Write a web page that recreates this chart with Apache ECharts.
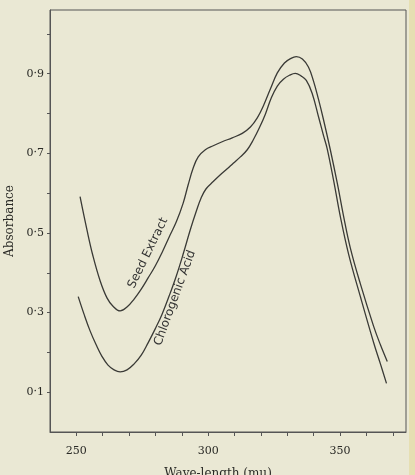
<!DOCTYPE html>
<html>
<head>
<meta charset="utf-8">
<style>
  html, body { margin: 0; padding: 0; background: #eae8d4; }
  #chart { width: 415px; height: 475px; }
</style>
<script src="https://cdn.jsdelivr.net/npm/echarts@6/dist/echarts.min.js"></script>
</head>
<body>
<div id="chart"></div>
<script>
// Data
const seedX = [251.4,254.1,256.3,259.0,261.6,263.9,266.6,269.2,271.9,274.6,277.2,279.9,282.5,285.2,287.9,290.5,292.4,294.3,296.2,298.9,301.9,305.3,309.1,312.9,316.0,318.6,320.9,323.6,326.2,328.9,331.2,333.4,335.7,338.0,339.9,341.8,343.7,346.3,349.0,351.3,353.9,357.7,362.7,365.3,367.9];
const seedY = [0.591,0.505,0.442,0.380,0.337,0.316,0.304,0.314,0.334,0.359,0.387,0.417,0.451,0.490,0.528,0.575,0.621,0.663,0.691,0.709,0.719,0.729,0.739,0.750,0.766,0.789,0.819,0.862,0.902,0.927,0.938,0.943,0.937,0.917,0.882,0.836,0.785,0.709,0.623,0.543,0.462,0.372,0.266,0.219,0.177];
const chloroX = [250.7,252.9,255.2,257.5,259.7,262.0,264.3,266.6,269.2,271.9,274.6,277.2,279.9,282.5,285.2,287.9,290.5,293.2,295.5,297.3,299.2,301.9,304.6,307.2,309.5,312.2,314.8,317.1,319.4,321.7,323.9,326.2,328.5,330.8,333.0,335.3,337.2,339.4,341.9,343.7,345.1,347.6,350.1,353.3,357.7,362.8,365.3,367.6];
const chloroY = [0.340,0.296,0.254,0.219,0.190,0.168,0.156,0.151,0.156,0.171,0.193,0.224,0.259,0.296,0.342,0.392,0.447,0.508,0.555,0.588,0.611,0.629,0.646,0.661,0.675,0.691,0.709,0.734,0.764,0.799,0.839,0.869,0.886,0.896,0.901,0.894,0.883,0.851,0.790,0.745,0.712,0.630,0.541,0.445,0.340,0.223,0.171,0.122];
const xTickValues = [250,260,270,280,290,300,310,320,330,340,350,360,370];
const xLabelValues = [250,300,350];
const yTickValues = [0.1,0.2,0.3,0.4,0.5,0.6,0.7,0.8,0.9,1.0];
const yLabelValues = [0.1,0.3,0.5,0.7,0.9];
const seriesNames = ['Seed Extract', 'Chlorogenic Acid'];
const xTitle = 'Wave-length (m\u03bc)';
const yTitle = 'Absorbance';

const zip = (xs, ys) => xs.map((x, i) => [x, ys[i]]);
const ink = '#3a3a36';
const serif = 'DejaVu Serif';

const chart = echarts.init(document.getElementById('chart'), null, { renderer: 'canvas' });
chart.setOption({
  backgroundColor: '#eae8d4',
  animation: false,
  grid: { left: 50, right: 9, top: 10, bottom: 43, containLabel: false, outerBoundsMode: 'none',
    show: true, borderColor: '#555', borderWidth: 1, backgroundColor: 'transparent' },
  xAxis: {
    type: 'value', min: 240, max: 375, interval: 10,
    name: xTitle, nameLocation: 'middle', nameGap: 36,
    nameTextStyle: { fontFamily: serif, fontSize: 12, color: '#2a2a26', padding: [0, 20, 0, 0] },
    axisLine: { show: true, lineStyle: { color: '#555', width: 1 } },
    axisTick: { show: true, inside: false, length: 4, customValues: xTickValues, lineStyle: { color: '#555' } },
    axisLabel: { customValues: xLabelValues, margin: 14, fontFamily: serif, fontSize: 11, color: '#2a2a26' },
    splitLine: { show: false }
  },
  yAxis: {
    type: 'value', min: 0, max: 1.06, interval: 0.1,
    name: yTitle, nameLocation: 'middle', nameGap: 32, nameRotate: 90,
    nameTextStyle: { fontFamily: serif, fontSize: 12, color: '#2a2a26' },
    axisLine: { show: true, lineStyle: { color: '#555', width: 1 } },
    axisTick: { show: true, inside: false, length: 3, customValues: yTickValues, lineStyle: { color: '#555' } },
    axisLabel: { customValues: yLabelValues, margin: 6, fontFamily: serif, fontSize: 11, color: '#2a2a26',
      formatter: v => v.toFixed(1).replace('.', '\u00b7') },
    splitLine: { show: false }
  },
  series: [
    { name: seriesNames[0], type: 'line', data: zip(seedX, seedY), smooth: 0.4, showSymbol: false,
      lineStyle: { color: ink, width: 1.3 } },
    { name: seriesNames[1], type: 'line', data: zip(chloroX, chloroY), smooth: 0.4, showSymbol: false,
      lineStyle: { color: ink, width: 1.3 } }
  ],
  graphic: [
    { type: 'text', x: 148, y: 253, rotation: 64 * Math.PI / 180,
      style: { text: seriesNames[0], fontFamily: 'DejaVu Sans', fontSize: 12, fill: '#333', align: 'center', verticalAlign: 'middle' } },
    { type: 'text', x: 175, y: 298, rotation: 70 * Math.PI / 180,
      style: { text: seriesNames[1], fontFamily: 'DejaVu Sans', fontSize: 12, fill: '#333', align: 'center', verticalAlign: 'middle' } },
    { type: 'rect', shape: { x: 409, y: 0, width: 6, height: 475 }, style: { fill: '#e6dfb2' }, z: -1 }
  ]
});
</script>
</body>
</html>
